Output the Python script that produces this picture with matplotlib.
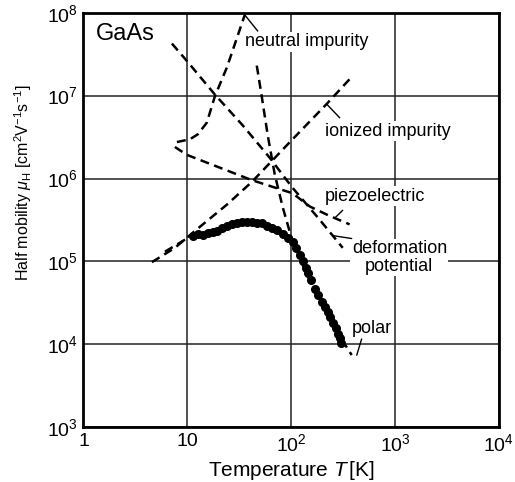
import matplotlib
matplotlib.use("Agg")
import matplotlib.pyplot as plt
from matplotlib.ticker import FixedLocator, FixedFormatter, NullLocator

plt.rcParams["font.family"] = ["Liberation Sans", "DejaVu Sans"]
plt.rcParams["mathtext.fontset"] = "custom"
plt.rcParams["mathtext.rm"] = "Liberation Sans"
plt.rcParams["mathtext.it"] = "Liberation Sans:italic"

# values (T in K, mobility in cm^2/Vs)
neutral_T = [7.93, 10.6, 12.6, 15.4, 18.4, 24.0, 35.7]
neutral_mu = [2.75e6, 2.98e6, 3.41e6, 4.72e6, 9.8e6, 2.18e7, 9.4e7]

ionized_T = [4.56, 7.59, 11.8, 24.0, 41.7, 101, 219, 365]
ionized_mu = [9.8e4, 1.46e5, 2.33e5, 4.84e5, 9.08e5, 2.9e6, 7.91e6, 1.58e7]

piezo_T = [7.59, 9.89, 41.7, 103, 151, 234, 365]
piezo_mu = [2.40e6, 1.93e6, 9.57e5, 6.64e5, 4.6e5, 3.54e5, 2.8e5]

deform_T = [7.1, 9.89, 18.4, 34.2, 62.1, 101, 188, 313]
deform_mu = [4.24e7, 2.62e7, 1.03e7, 4.36e6, 1.78e6, 7.96e5, 3.18e5, 1.46e5]

polar_T = [46.6, 52.0, 59.4, 69.4, 82.9, 101, 135, 188, 262, 382]
polar_mu = [2.30e7, 9.8e6, 3.32e6, 1.12e6, 4.48e5, 1.89e5, 7.96e4, 3.27e4,
            1.56e4, 7.43e3]

total_T = [6.08, 10.6, 14.0]
total_mu = [1.31e5, 1.99e5, 2.2e5]

meas_T = [11.3, 12.6, 14.1, 15.7, 17.6, 19.2, 21.5, 24.0, 26.8, 29.9, 33.4,
          37.3, 41.7, 46.6, 52.0, 58.1, 65.0, 72.6, 82.8, 92.5, 103, 110,
          121, 129, 138, 144, 154, 168, 180, 196, 210, 224, 234, 251, 268,
          280, 293, 299]
meas_mu = [2.04e5, 2.15e5, 2.10e5, 2.21e5, 2.27e5, 2.33e5, 2.52e5, 2.65e5,
           2.80e5, 2.87e5, 3.03e5, 3.03e5, 3.03e5, 2.94e5, 2.87e5, 2.65e5,
           2.52e5, 2.39e5, 2.15e5, 1.94e5, 1.70e5, 1.46e5, 1.21e5, 1.01e5,
           8.45e4, 7.28e4, 5.92e4, 4.67e4, 3.91e4, 3.27e4, 2.82e4, 2.43e4,
           2.16e4, 1.81e4, 1.56e4, 1.35e4, 1.19e4, 1.03e4]

x_ticks = [1, 10, 100, 1000, 10000]
x_labels = ["1", "10", r"$10^2$", r"$10^3$", r"$10^4$"]
y_ticks = [1e3, 1e4, 1e5, 1e6, 1e7, 1e8]
y_labels = [r"$10^3$", r"$10^4$", r"$10^5$", r"$10^6$", r"$10^7$", r"$10^8$"]

fig = plt.figure(figsize=(5.15, 4.82), dpi=100)
ax = fig.add_axes([0.1621, 0.1135, 0.8068, 0.8602])

dash = dict(color="black", lw=1.8, dashes=(3.6, 2.2))
for T, mu in ((neutral_T, neutral_mu), (ionized_T, ionized_mu),
              (piezo_T, piezo_mu), (deform_T, deform_mu),
              (polar_T, polar_mu), (total_T, total_mu)):
    ax.plot(T, mu, **dash)
ax.plot(meas_T, meas_mu, "o", color="black", ms=5.5, mec="black")

ax.set_xscale("log")
ax.set_yscale("log")
ax.set_xlim(1, 1e4)
ax.set_ylim(1e3, 1e8)
ax.xaxis.set_major_locator(FixedLocator(x_ticks))
ax.xaxis.set_major_formatter(FixedFormatter(x_labels))
ax.yaxis.set_major_locator(FixedLocator(y_ticks))
ax.yaxis.set_major_formatter(FixedFormatter(y_labels))
ax.xaxis.set_minor_locator(NullLocator())
ax.yaxis.set_minor_locator(NullLocator())
ax.tick_params(length=0, labelsize=14)
ax.tick_params(axis="x", pad=4)
ax.tick_params(axis="y", pad=4)
ax.grid(True, color="#222222", lw=1.1)
for s in ax.spines.values():
    s.set_linewidth(2.0)

ax.set_xlabel(r"Temperature $T\,$[K]", fontsize=15, labelpad=3)
ax.set_ylabel(r"Half mobility $\mu_{\mathrm{H}}$ [cm$^2$V$^{-1}$s$^{-1}$]",
              fontsize=11.5)
ax.yaxis.set_label_coords(-0.12, 0.59)

box = dict(facecolor="white", edgecolor="none", pad=1.0)
ax.text(1.32, 5.5e7, "GaAs", fontsize=17, va="center", ha="left")

lead = dict(arrowprops=dict(arrowstyle="-", color="black", lw=1.0,
                            shrinkA=0, shrinkB=0))
ax.text(35.7, 4.47e7, "neutral impurity", fontsize=13, va="center", bbox=box)
ax.annotate("", xy=(neutral_T[-1], neutral_mu[-1]), xytext=(47.6, 6.0e7),
            **lead)

ax.text(210, 3.7e6, "ionized impurity", fontsize=13, va="center", bbox=box)
ax.annotate("", xy=(ionized_T[-2], ionized_mu[-2]), xytext=(293, 5.4e6),
            **lead)

ax.text(210, 6.1e5, "piezoelectric", fontsize=13, va="center", bbox=box)
ax.annotate("", xy=(262, 3.33e5), xytext=(313, 4.14e5), **lead)

ax.text(1100, 1.12e5, "deformation\npotential", fontsize=13, va="center",
        ha="center", linespacing=1.05, bbox=box)
ax.annotate("", xy=(251, 2.05e5), xytext=(382, 1.89e5), **lead)

ax.text(382, 1.56e4, "polar", fontsize=13, va="center", bbox=box)
ax.annotate("", xy=(427, 7.4e3), xytext=(476, 1.16e4), **lead)

fig.savefig("out.png", dpi=100)
